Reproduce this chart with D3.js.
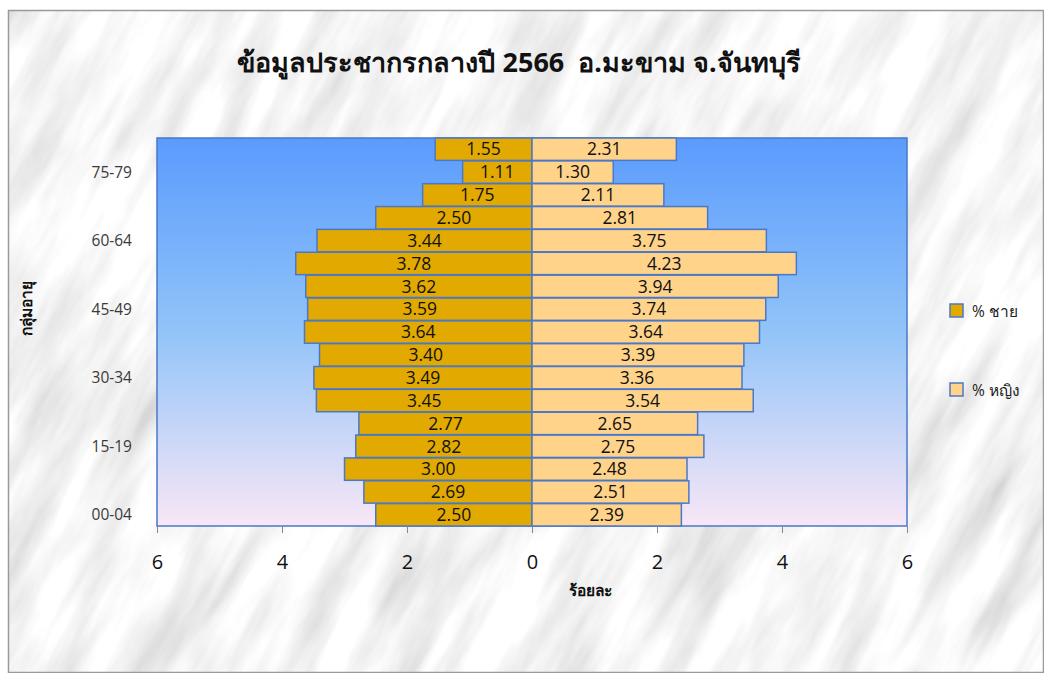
<!DOCTYPE html>
<html>
<head>
<meta charset="utf-8">
<script src="https://cdn.jsdelivr.net/npm/d3@7"></script>
<style>
  body { margin: 0; background: #ffffff; }
  svg { display: block; }
</style>
</head>
<body>
<svg id="chart"></svg>
<script>
// age groups, bottom to top
var ageGroups = ["00-04","05-09","10-14","15-19","20-24","25-29","30-34","35-39","40-44",
                 "45-49","50-54","55-59","60-64","65-69","70-74","75-79","80+"];
var maleValues   = [2.50,2.69,3.00,2.82,2.77,3.45,3.49,3.40,3.64,3.59,3.62,3.78,3.44,2.50,1.75,1.11,1.55];
var femaleValues = [2.39,2.51,2.48,2.75,2.65,3.54,3.36,3.39,3.64,3.74,3.94,4.23,3.75,2.81,2.11,1.30,2.31];
var shownAgeLabels = ["00-04","15-19","30-34","45-49","60-64","75-79"];
var xTickValues = [-6,-4,-2,0,2,4,6];
var seriesNames = ["% ชาย", "% หญิง"];

var screen = { width: 1044, height: 673 };
var plot = { left: 157, right: 907, top: 138, bottom: 526 };

var svg = d3.select("#chart")
            .attr("width", screen.width)
            .attr("height", screen.height);

var defs = svg.append("defs");

// marble-ish background (streaky noise, rotated)
var marble = defs.append("filter").attr("id", "marble")
                 .attr("filterUnits", "userSpaceOnUse")
                 .attr("x", -800).attr("y", -800).attr("width", 1600).attr("height", 1600);
marble.append("feTurbulence")
      .attr("type", "fractalNoise")
      .attr("baseFrequency", "0.006 0.03")
      .attr("numOctaves", 5)
      .attr("seed", 3);
marble.append("feColorMatrix")
      .attr("type", "matrix")
      .attr("values", "0.4 0.4 0 0 0.52  0.4 0.4 0 0 0.52  0.4 0.4 0 0 0.52  0 0 0 0 1");

defs.append("clipPath").attr("id", "chartClip")
    .append("rect")
    .attr("x", 8).attr("y", 10)
    .attr("width", screen.width - 8).attr("height", screen.height - 10);

var grad = defs.append("linearGradient").attr("id", "plotGrad")
               .attr("x1", 0).attr("y1", 0).attr("x2", 0).attr("y2", 1);
grad.append("stop").attr("offset", "0%").attr("stop-color", "#5a9bfd");
grad.append("stop").attr("offset", "50%").attr("stop-color", "#92c4f9");
grad.append("stop").attr("offset", "100%").attr("stop-color", "#f9e7f6");

svg.append("g")
   .attr("clip-path", "url(#chartClip)")
   .append("g")
   .attr("transform", "translate(522,340) rotate(-62)")
   .append("rect")
   .attr("x", -800).attr("y", -800)
   .attr("width", 1600).attr("height", 1600)
   .attr("fill", "#eeeeee")
   .attr("filter", "url(#marble)");

svg.append("rect")
   .attr("x", 8.5).attr("y", 10.5)
   .attr("width", screen.width - 9).attr("height", screen.height - 11)
   .attr("fill", "none")
   .style("stroke", "#9a9a9a")
   .style("stroke-width", 1.5);

var xScale = d3.scaleLinear()
               .domain([-6, 6])
               .range([plot.left, plot.right]);

var yScale = d3.scaleBand()
               .domain(ageGroups)
               .range([plot.bottom, plot.top])
               .paddingInner(0.02);

// plot area
svg.append("rect")
   .attr("x", plot.left).attr("y", plot.top)
   .attr("width", plot.right - plot.left)
   .attr("height", plot.bottom - plot.top)
   .attr("fill", "url(#plotGrad)")
   .style("stroke", "#4a78c8")
   .style("stroke-width", 1.5);

var maleColor = "#e2a900";
var femaleColor = "#ffd38a";
var barStroke = "#4a78c8";

var rows = ageGroups.map(function(a, i){
  return { age: a, male: maleValues[i], female: femaleValues[i] };
});

var bars = svg.append("g").classed("bars", true);

bars.selectAll(".male")
    .data(rows).enter()
    .append("rect")
    .attr("x", function(d){ return xScale(-d.male); })
    .attr("y", function(d){ return yScale(d.age); })
    .attr("width", function(d){ return xScale(0) - xScale(-d.male); })
    .attr("height", yScale.bandwidth())
    .attr("fill", maleColor)
    .style("stroke", barStroke)
    .style("stroke-width", 1.5);

bars.selectAll(".female")
    .data(rows).enter()
    .append("rect")
    .attr("x", xScale(0))
    .attr("y", function(d){ return yScale(d.age); })
    .attr("width", function(d){ return xScale(d.female) - xScale(0); })
    .attr("height", yScale.bandwidth())
    .attr("fill", femaleColor)
    .style("stroke", barStroke)
    .style("stroke-width", 1.5);

var labelFont = "'Open Sans', 'Noto Sans', sans-serif";

bars.selectAll(".mlabel")
    .data(rows).enter()
    .append("text")
    .attr("x", function(d){ return (xScale(0) + xScale(-d.male)) / 2; })
    .attr("y", function(d){ return yScale(d.age) + yScale.bandwidth() / 2; })
    .attr("dy", "0.36em")
    .attr("text-anchor", "middle")
    .attr("font-family", labelFont)
    .attr("font-size", 17.5)
    .attr("fill", "#111")
    .text(function(d){ return d.male.toFixed(2); });

bars.selectAll(".flabel")
    .data(rows).enter()
    .append("text")
    .attr("x", function(d){ return (xScale(0) + xScale(d.female)) / 2; })
    .attr("y", function(d){ return yScale(d.age) + yScale.bandwidth() / 2; })
    .attr("dy", "0.36em")
    .attr("text-anchor", "middle")
    .attr("font-family", labelFont)
    .attr("font-size", 17.5)
    .attr("fill", "#111")
    .text(function(d){ return d.female.toFixed(2); });

// x axis
var xAxis = d3.axisBottom(xScale)
              .tickValues(xTickValues)
              .tickSize(7)
              .tickPadding(22)
              .tickFormat(function(v){ return Math.abs(v); });

var xAxisG = svg.append("g")
                .attr("transform", "translate(0," + plot.bottom + ")")
                .call(xAxis);
xAxisG.select(".domain").remove();
xAxisG.selectAll(".tick line").style("stroke", "#888");
xAxisG.selectAll(".tick text")
      .attr("font-family", labelFont)
      .attr("font-size", 20)
      .attr("fill", "#111");

// y labels
svg.append("g")
   .selectAll("text")
   .data(shownAgeLabels).enter()
   .append("text")
   .attr("x", 132)
   .attr("y", function(a){ return yScale(a) + yScale.bandwidth() / 2; })
   .attr("dy", "0.36em")
   .attr("text-anchor", "end")
   .attr("font-family", labelFont)
   .attr("font-size", 15.5)
   .attr("fill", "#3a3a3a")
   .text(function(a){ return a; });

// titles
svg.append("text")
   .text("ข้อมูลประชากรกลางปี 2566  อ.มะขาม จ.จันทบุรี")
   .attr("x", 519)
   .attr("y", 72)
   .attr("text-anchor", "middle")
   .attr("font-family", "'Noto Sans', sans-serif")
   .attr("font-weight", "bold")
   .attr("font-size", 27)
   .attr("fill", "#111")
   .style("white-space", "pre");

svg.append("text")
   .text("ร้อยละ")
   .attr("x", 590)
   .attr("y", 596)
   .attr("text-anchor", "middle")
   .attr("font-family", "'Noto Sans', sans-serif")
   .attr("font-weight", "bold")
   .attr("font-size", 15.5)
   .attr("fill", "#111");

svg.append("text")
   .text("กลุ่มอายุ")
   .attr("transform", "translate(32,308) rotate(-90)")
   .attr("text-anchor", "middle")
   .attr("font-family", "'Noto Sans', sans-serif")
   .attr("font-weight", "bold")
   .attr("font-size", 15.5)
   .attr("fill", "#111");

// legend
var legendColors = [maleColor, femaleColor];
var legend = svg.append("g").selectAll("g")
                .data(seriesNames).enter()
                .append("g")
                .attr("transform", function(d, i){ return "translate(950," + (304 + i * 79) + ")"; });
legend.append("rect")
      .attr("width", 13).attr("height", 13)
      .attr("fill", function(d, i){ return legendColors[i]; })
      .style("stroke", barStroke)
      .style("stroke-width", 1.5);
legend.append("text")
      .attr("x", 22).attr("y", 7)
      .attr("dy", "0.36em")
      .attr("font-family", labelFont)
      .attr("font-size", 15.5)
      .attr("fill", "#222")
      .text(function(d){ return d; });
</script>
</body>
</html>
